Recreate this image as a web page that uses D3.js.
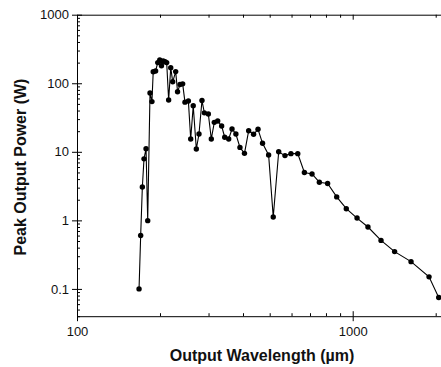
<!DOCTYPE html>
<html>
<head>
<meta charset="utf-8">
<script src="https://cdn.jsdelivr.net/npm/d3@7"></script>
<style>
  body{margin:0;background:#fff}
  svg{display:block;font-family:"Liberation Sans",Arial,sans-serif}
</style>
</head>
<body>
<div id="chart"></div>
<script>
const wavelength = [167.9,170.2,172.6,175,178,180.5,184,187,189,192.8,196.3,199.6,202.5,205.3,208.6,211.5,215,218.8,222.4,228,
  231.6,236.4,241.7,246.4,253.5,258.5,264,270.9,277,284,289.7,299.5,307,314.8,323.8,334.7,343.4,355,365,377,
  390,405,419.5,437,453.5,471,495.5,515,539,568,597,632,668,712,757,811,875,948,1037,1136,1267,1419,1628,1892,2051]
const power = [0.1,0.6,3.07,7.9,11.1,0.99,72,54,147,151,200,218,180,211,206,200,57,169,105,148,
  75,96,98,53,55,15.4,47,11,18.2,56,37,35.6,15.4,26.9,28.1,23.8,16.3,15.4,21.5,18.2,
  11.6,9.5,20.3,18,21.3,13.3,9.0,1.12,10,8.8,9.4,9.4,5.0,4.75,3.6,3.45,2.2,1.48,1.08,0.8,0.51,0.35,0.25,0.15,0.075]
const xMajor = [100,1000]
const yMajor = [0.1,1,10,100,1000]
const yLabels = ["0.1","1","10","100","1000"]
const xTitle = "Output Wavelength (\u00b5m)"
const yTitle = "Peak Output Power (W)"

drawChart("#chart")

function drawChart(id){
  const canvas = createCanvas()
  const data = wavelength.map((w,i) => ({w, p: power[i]}))
  const svg = d3.select(id).append("svg").attr("width",canvas.width).attr("height",canvas.height)
  const sc = addScales(canvas)
  addAxes(svg,sc,canvas)
  addLine(svg,sc,data)
  addPoints(svg,sc,data)
  addLabels(svg,canvas)
}

function createCanvas(){
  return {width:441, height:367, left:77, top:14.7, bottom:316.2, right:447.1}
}

function addScales(canvas){
  const xScale = d3.scaleLog().domain([100,2200]).range([canvas.left,canvas.right])
  const yScale = d3.scaleLog().domain([0.04,1000]).range([canvas.bottom,canvas.top])
  return {xScale,yScale}
}

function addAxes(svg,sc,canvas){
  const xMinor = sc.xScale.ticks().filter(v => !xMajor.includes(v))
  const yMinor = sc.yScale.ticks().filter(v => !yMajor.some(m => Math.abs(m - v) < 1e-9))

  const style = g => {
    g.selectAll("path,line").attr("stroke","#000").attr("stroke-width",1)
    g.selectAll("text").attr("fill","#111").attr("font-size","13px")
  }

  // bottom
  svg.append("g").attr("transform",`translate(0,${canvas.bottom})`)
    .call(d3.axisBottom(sc.xScale).tickValues(xMajor).tickFormat(d3.format("d")).tickSizeInner(5).tickSizeOuter(0).tickPadding(6))
    .call(style)
  svg.append("g").attr("transform",`translate(0,${canvas.bottom})`)
    .call(d3.axisBottom(sc.xScale).tickValues(xMajor).tickFormat("").tickSize(-5))
    .call(style).select(".domain").remove()
  svg.append("g").attr("transform",`translate(0,${canvas.bottom})`)
    .call(d3.axisBottom(sc.xScale).tickValues(xMinor).tickFormat("").tickSize(-3))
    .call(style).select(".domain").remove()

  // top
  svg.append("g").attr("transform",`translate(0,${canvas.top})`)
    .call(d3.axisTop(sc.xScale).tickValues(xMajor).tickFormat("").tickSizeInner(-5).tickSizeOuter(0))
    .call(style)
  svg.append("g").attr("transform",`translate(0,${canvas.top})`)
    .call(d3.axisTop(sc.xScale).tickValues(xMinor).tickFormat("").tickSize(-3))
    .call(style).select(".domain").remove()

  // left
  svg.append("g").attr("transform",`translate(${canvas.left},0)`)
    .call(d3.axisLeft(sc.yScale).tickValues(yMajor).tickFormat((d,i) => yLabels[i]).tickSizeInner(5).tickSizeOuter(0).tickPadding(3))
    .call(style)
  svg.append("g").attr("transform",`translate(${canvas.left},0)`)
    .call(d3.axisLeft(sc.yScale).tickValues(yMajor).tickFormat("").tickSize(-5))
    .call(style).select(".domain").remove()
  svg.append("g").attr("transform",`translate(${canvas.left},0)`)
    .call(d3.axisLeft(sc.yScale).tickValues(yMinor).tickFormat("").tickSize(-3))
    .call(style).select(".domain").remove()
}

function addLine(svg,sc,data){
  const line = d3.line().x(d => sc.xScale(d.w)).y(d => sc.yScale(d.p))
  svg.append("path").datum(data).attr("fill","none").attr("stroke","#000")
    .attr("stroke-width",1.1).attr("d",line)
}

function addPoints(svg,sc,data){
  svg.selectAll("circle.pt").data(data).enter()
    .append("circle").attr("class","pt")
    .attr("cx",d => sc.xScale(d.w)).attr("cy",d => sc.yScale(d.p))
    .attr("r",2.7).attr("fill","#000")
}

function addLabels(svg,canvas){
  svg.append("text").attr("x",262).attr("y",361)
    .attr("text-anchor","middle").attr("font-size","16px").attr("font-weight","bold").attr("fill","#111")
    .text(xTitle)
  svg.append("text").attr("transform","translate(26,167) rotate(-90)")
    .attr("text-anchor","middle").attr("font-size","16px").attr("font-weight","bold").attr("fill","#111")
    .text(yTitle)
}
</script>
</body>
</html>
